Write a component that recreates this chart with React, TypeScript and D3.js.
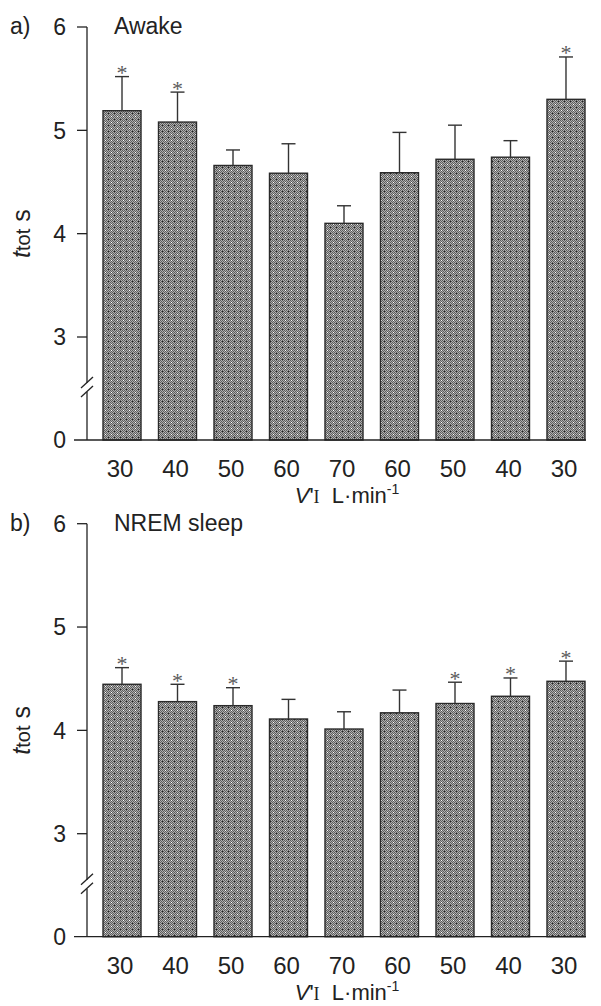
import React from 'react';
import * as d3 from 'd3';

// flow steps (L/min), up then down again
const flowLabels = ['30', '40', '50', '60', '70', '60', '50', '40', '30'];

// panel a) awake: mean ttot and top of SE bar
const awakeMean = [5.19, 5.08, 4.66, 4.585, 4.10, 4.59, 4.72, 4.74, 5.30];
const awakeErr = [5.52, 5.37, 4.81, 4.87, 4.27, 4.98, 5.05, 4.90, 5.71];
const awakeSig = [true, true, false, false, false, false, false, false, true];

// panel b) NREM sleep
const nremMean = [4.446, 4.278, 4.239, 4.11, 4.013, 4.17, 4.26, 4.33, 4.475];
const nremErr = [4.607, 4.446, 4.413, 4.30, 4.18, 4.39, 4.466, 4.507, 4.67];
const nremSig = [true, true, true, false, false, false, true, true, true];

const yTicks = [3, 4, 5, 6];

const FONT = '"Liberation Sans", Arial, Helvetica, sans-serif';
const SERIF = '"Liberation Serif", "Times New Roman", serif';

interface PanelProps {
  top: number;
  letter: string;
  title: string;
  means: number[];
  errs: number[];
  sig: boolean[];
}

const axisX = 87;

const Panel: React.FC<PanelProps> = ({ top, letter, title, means, errs, sig }) => {
  const base = top + 440;
  const y = d3.scaleLinear().domain([3, 6]).range([top + 337, top + 27]);
  const x = d3
    .scaleBand<number>()
    .domain(d3.range(flowLabels.length))
    .range([103, 585])
    .paddingInner(0.315)
    .paddingOuter(0);
  const bw = x.bandwidth();
  const breakY = top + 383;

  return (
    <g>
      {/* bars */}
      {means.map((v, i) => (
        <rect
          key={'b' + i}
          x={x(i)}
          y={y(v)}
          width={bw}
          height={base - y(v)}
          fill="url(#chk)"
          stroke="#2a2a2a"
          strokeWidth={1.4}
        />
      ))}
      {/* error bars, upward only */}
      {errs.map((e, i) => {
        const cx = (x(i) as number) + bw / 2;
        return (
          <g key={'e' + i} stroke="#333" strokeWidth={1.4}>
            <line x1={cx} x2={cx} y1={y(means[i])} y2={y(e)} />
            <line x1={cx - 7} x2={cx + 7} y1={y(e)} y2={y(e)} />
          </g>
        );
      })}
      {/* significance stars */}
      {sig.map((s, i) =>
        s ? (
          <text
            key={'s' + i}
            x={(x(i) as number) + bw / 2}
            y={y(errs[i]) + 3.5}
            textAnchor="middle"
            fontFamily={SERIF}
            fontSize={22}
            fill="#5a5a5a"
          >
            *
          </text>
        ) : null
      )}
      {/* y axis with break */}
      <g stroke="#222" strokeWidth={1.3} fill="none">
        <line x1={axisX} x2={axisX} y1={y(6)} y2={breakY} />
        <line x1={axisX} x2={axisX} y1={breakY + 9} y2={base} />
        <line x1={axisX - 6} x2={axisX + 6} y1={breakY + 5} y2={breakY - 6} />
        <line x1={axisX - 6} x2={axisX + 6} y1={breakY + 14} y2={breakY + 3} />
        {yTicks.map((t) => (
          <line key={'t' + t} x1={axisX - 10} x2={axisX} y1={y(t)} y2={y(t)} />
        ))}
        <line x1={74} x2={586} y1={base} y2={base} />
      </g>
      <g fontFamily={FONT} fontSize={23} fill="#222" textAnchor="end">
        {yTicks.map((t) => (
          <text key={'l' + t} x={66} y={y(t)} dy="0.36em">
            {t}
          </text>
        ))}
        <text x={66} y={base} dy="0.36em">
          0
        </text>
      </g>
      {/* category labels */}
      <g fontFamily={FONT} fontSize={24} fill="#222" textAnchor="middle">
        {flowLabels.map((l, i) => (
          <text key={'x' + i} x={(x(i) as number) + bw / 2 - 2} y={base + 37}>
            {l}
          </text>
        ))}
      </g>
      {/* x title */}
      <text x={347} y={base + 63} textAnchor="middle" fontFamily={FONT} fontSize={22} fill="#222">
        <tspan fontStyle="italic">V</tspan>
        <tspan>'</tspan>
        <tspan fontFamily={SERIF} fontSize={18}>I</tspan>
        <tspan>{'\u00a0\u00a0L·min'}</tspan>
        <tspan fontSize={14} dy={-9}>-1</tspan>
      </text>
      {/* y title */}
      <text
        transform={`translate(30,${y(4)}) rotate(-90)`}
        textAnchor="middle"
        fontFamily={FONT}
        fill="#222"
      >
        <tspan fontStyle="italic" fontSize={25}>t</tspan>
        <tspan fontSize={20}>tot</tspan>
        <tspan fontSize={25}>{'\u00a0s'}</tspan>
      </text>
      {/* panel letter and title */}
      <text x={10} y={top + 34} fontFamily={FONT} fontSize={23} fill="#222">
        {letter}
      </text>
      <text x={114} y={top + 34} fontFamily={FONT} fontSize={23} fill="#222">
        {title}
      </text>
    </g>
  );
};

const App: React.FC = () => {
  // 6x6 halftone tile: fine checker with a brighter dot
  const cells: JSX.Element[] = [];
  for (let r = 0; r < 6; r++) {
    for (let c = 0; c < 6; c++) {
      if ((r + c) % 2 === 0) {
        cells.push(<rect key={`${r}-${c}`} x={c} y={r} width={1} height={1} fill="#5c5c5c" />);
      }
    }
  }

  return (
    <svg
      width={601}
      height={1006}
      style={{ position: 'absolute', left: 0, top: 0, background: '#fff' }}
    >
      <defs>
        <pattern id="chk" width={6} height={6} patternUnits="userSpaceOnUse">
          <rect width={6} height={6} fill="#b0b0b0" />
          {cells}
          <rect x={3} y={2} width={1} height={1} fill="#fff" />
          <rect x={0} y={5} width={1} height={1} fill="#222" />
        </pattern>
      </defs>
      <rect width={601} height={1006} fill="#fff" />
      <Panel top={0} letter="a)" title="Awake" means={awakeMean} errs={awakeErr} sig={awakeSig} />
      <Panel top={496.7} letter="b)" title="NREM sleep" means={nremMean} errs={nremErr} sig={nremSig} />
    </svg>
  );
};

export default App;
